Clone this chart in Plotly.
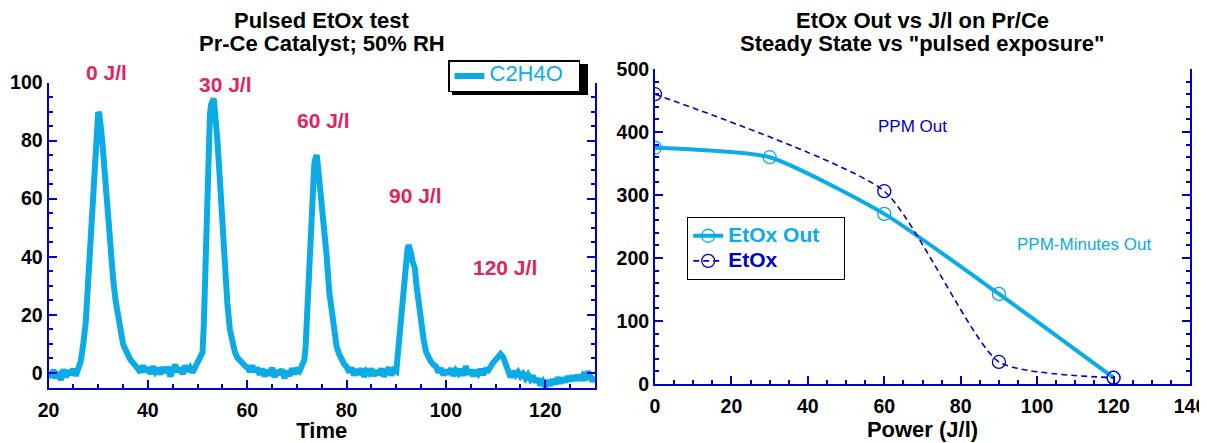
import plotly.graph_objects as go

# ---------------- data ----------------
# Left panel: C2H4O signal vs time
time_min = [
    20.0, 20.5, 21.0, 21.5, 22.0, 22.5, 23.0, 23.5, 24.0, 24.5, 25.0, 25.5, 26.0,
    26.5, 27.0, 27.5, 28.0, 28.5, 29.0, 29.25, 29.5, 29.75, 30.0, 30.25, 30.5, 30.75,
    31.0, 31.5, 32.0, 32.5, 33.0, 33.5, 34.0, 34.5, 35.0, 35.5, 36.0, 36.5, 37.0, 37.5,
    38.0, 38.5, 39.0, 39.5, 40.0, 40.5, 41.0, 41.5, 42.0, 42.5, 43.0, 43.5, 44.0, 44.5,
    45.0, 45.5, 46.0, 46.5, 47.0, 47.5, 48.0, 48.5, 49.0, 49.5, 50.0,
    50.5, 51.0, 51.25, 51.5, 51.75, 52.0, 52.25, 52.5, 52.75, 53.0, 53.25, 53.5, 53.75,
    54.0, 54.5, 55.0, 55.5, 56.0, 56.5, 57.0, 57.5, 58.0, 58.5, 59.0, 59.5, 60.0,
    60.5, 61.0, 61.5, 62.0, 62.5, 63.0, 63.5, 64.0, 64.5, 65.0, 65.5, 66.0, 66.5, 67.0,
    67.5, 68.0, 68.5, 69.0, 69.5, 70.0, 70.5, 71.0,
    71.5, 71.75, 72.0, 72.25, 72.5, 72.75, 73.0, 73.25, 73.5, 73.75, 74.0, 74.25, 74.5,
    75.0, 75.5, 76.0, 76.5, 77.0, 77.5, 78.0, 78.5, 79.0, 79.5, 80.0,
    80.5, 81.0, 81.5, 82.0, 82.5, 83.0, 83.5, 84.0, 84.5, 85.0, 85.5, 86.0, 86.5, 87.0,
    87.5, 88.0, 88.5, 89.0, 89.5, 90.0,
    90.25, 90.5, 90.75, 91.0, 91.25, 91.5, 91.75, 92.0, 92.25, 92.5, 92.75, 93.0, 93.25,
    93.5, 93.75, 94.0, 94.5, 95.0, 95.5, 96.0, 96.5, 97.0, 97.5, 98.0,
    98.5, 99.0, 99.5, 100.0, 100.5, 101.0, 101.5, 102.0, 102.5, 103.0, 103.5, 104.0,
    104.5, 105.0, 105.5, 106.0, 106.5, 107.0, 107.5, 108.0,
    108.5, 109.0, 109.5, 110.0, 110.5, 111.0, 111.5, 112.0, 112.5, 113.0, 113.5, 114.0,
    114.5, 115.0, 115.5, 116.0, 116.5, 117.0, 117.5, 118.0, 118.5, 119.0, 119.5, 120.0,
    120.5, 121.0, 121.5, 122.0, 122.5, 123.0, 123.5, 124.0, 124.5, 125.0, 125.5, 126.0,
    126.5, 127.0, 127.5, 128.0, 128.5, 129.0, 129.5, 130.0,
]
c2h4o = [
    0.3, -1.5, 1.0, -1.8, 0.5, -2.5, 1.2, -1.5, 0.8, -0.5, 1.3, -1.0, 1.5,
    4.0, 10.0, 17.5, 32.0, 47.5, 62.0, 71.0, 80.0, 88.0, 89.8, 89.0, 86.0, 81.0,
    76.0, 63.5, 52.0, 41.5, 32.5, 25.0, 19.0, 13.5, 10.0, 8.0, 5.7, 4.5, 3.5, 2.8,
    1.5, 0.2, 2.5, 0.5, 1.8, -0.3, 2.2, 0.4, 1.6, -0.5, 1.9, 0.2, 2.0, -1.2,
    1.5, 2.8, 0.3, 1.8, -0.4, 2.5, 0.6, 1.8, 0.2, 2.0, 3.0,
    4.5, 7.0, 16.0, 33.0, 50.0, 67.0, 81.0, 89.4, 92.5, 94.0, 94.5, 90.0, 86.0,
    80.0, 66.4, 49.0, 35.0, 24.0, 15.0, 10.5, 7.3, 5.3, 4.2, 3.2, 2.5, 2.0,
    0.5, 2.5, 0.3, 1.8, -0.6, 1.5, -1.2, 1.0, -0.8, 1.8, -1.5, 0.8, -0.5, 1.2,
    -1.8, 0.6, -1.0, 1.5, -0.3, 1.0, 0.5, 2.5,
    4.5, 9.0, 18.0, 31.0, 43.0, 55.0, 63.0, 69.5, 72.0, 74.0, 75.0, 71.0, 67.0,
    60.5, 51.0, 40.0, 28.0, 20.5, 14.0, 9.0, 6.5, 4.5, 3.0, 2.2,
    0.2, 1.8, -0.8, 1.2, -0.5, 1.5, -1.3, 0.6, -0.2, 1.4, -1.0, 0.8, -0.6, 1.5,
    -1.2, 0.5, 1.8, -0.8, 1.0, 0.5,
    5.0, 9.0, 13.0, 18.0, 24.0, 30.0, 36.0, 40.0, 42.5, 44.0, 43.0, 41.0, 38.5,
    37.0, 36.0, 31.0, 23.5, 17.0, 11.5, 7.2, 5.0, 3.8, 2.8, 2.2,
    0.2, 1.6, -0.8, 1.0, -0.4, 1.5, -1.0, 0.8, -0.2, 1.2, -0.9, 2.3,
    -0.5, 1.0, -1.1, 0.9, -0.3, 1.2, -0.6, 1.0,
    0.8, 2.5, 3.5, 4.5, 5.5, 6.5, 5.5, 3.5, 1.5, -1.5, 0.5, -0.8,
    0.3, -1.2, -0.3, -1.8, -0.6, -2.2, -1.0, -3.2, -2.0, -4.2, -3.0, -4.8,
    -2.6, -4.3, -2.2, -3.8, -1.6, -3.5, -1.8, -3.2, -1.2, -2.8, -1.0, -2.6,
    -0.8, -2.4, -1.0, -2.5, 0.5, -1.5, -2.8, -1.2,
]
assert len(time_min) == len(c2h4o)

pulse_labels = ["0 J/l", "30 J/l", "60 J/l", "90 J/l", "120 J/l"]

# Right panel
power_ss = [0, 30, 60, 90, 120]
etox_out = [375, 360, 270, 143, 10]
power_pulse = [0, 60, 90, 120]
etox_pulse = [460, 306, 35, 10]

# ---------------- styles ----------------
# the page body has an 8px margin, so the figure is 8px smaller and every
# window-pixel position below is shifted by that offset
OFF = 8
W, H = 1207 - OFF, 443 - OFF
CYAN = "#0BABE6"
BLUE = "#0000CC"
CRIMSON = "#E0245E"
FONT = "Liberation Sans, Arial, sans-serif"
NB = "&nbsp;"

# window-pixel positions of the pulse labels (text placement only)
label_px = [(106, 72), (225, 84), (323, 121), (415, 195), (505, 267)]


def fx(p):
    return (p - OFF) / W


def fy(p):
    return 1 - (p - OFF) / H


fig = go.Figure()

fig.add_trace(go.Scatter(
    x=time_min, y=c2h4o, mode="lines",
    line=dict(color=CYAN, width=6),
    name='<span style="font-size:22px">C2H4O</span>' + NB * 3,
    xaxis="x", yaxis="y", legend="legend",
))
fig.add_trace(go.Scatter(
    x=power_ss, y=etox_out, mode="lines+markers",
    line=dict(color=CYAN, width=4, shape="spline", smoothing=0.55),
    marker=dict(symbol="circle-open", size=13, color=CYAN,
                line=dict(width=1.3, color=CYAN)),
    name='<b><span style="font-size:21px">EtOx Out</span></b>' + NB * 4,
    xaxis="x2", yaxis="y2", legend="legend2",
))
fig.add_trace(go.Scatter(
    x=power_pulse, y=etox_pulse, mode="lines+markers",
    line=dict(color=BLUE, width=1.6, dash="6px,4px", shape="spline", smoothing=0.55),
    marker=dict(symbol="circle-open", size=13, color=BLUE,
                line=dict(width=1.3, color=BLUE)),
    name='<b><span style="font-size:21px;color:#0000CC">EtOx</span></b>',
    xaxis="x2", yaxis="y2", legend="legend2",
))

axis_common = dict(
    showline=True, linecolor=BLUE, linewidth=2,
    ticks="inside", ticklen=8, tickwidth=2, tickcolor=BLUE,
    showgrid=False, zeroline=False, automargin=False,
    ticklabeloverflow="allow",
    tickfont=dict(family=FONT, size=19.5, color="black", weight="bold"),
)
minor_common = dict(ticklen=4, tickwidth=2, tickcolor=BLUE, ticks="inside", showgrid=False)
title_font = dict(family=FONT, size=22, color="black", weight="bold")

fig.update_layout(
    width=W, height=H,
    margin=dict(l=0, r=0, t=0, b=0, autoexpand=False),
    paper_bgcolor="white", plot_bgcolor="white",
    font=dict(family=FONT, color="black"),
    xaxis=dict(
        **axis_common, domain=[fx(48.5), fx(595)], range=[20, 130],
        tick0=20, dtick=20, anchor="y", mirror=False, ticklabelstandoff=4,
        minor=dict(dtick=5, **minor_common),
        title=dict(text="Time", font=title_font, standoff=3),
    ),
    yaxis=dict(
        **axis_common, domain=[fy(388), fy(82.5)], range=[-5.2, 100],
        tick0=0, dtick=20, anchor="x", mirror="ticks",
        minor=dict(dtick=5, **minor_common),
    ),
    xaxis2=dict(
        **axis_common, domain=[fx(655), fx(1190)], range=[0, 140],
        tick0=0, dtick=20, anchor="y2", mirror=False, ticklabelstandoff=4,
        minor=dict(dtick=5, **minor_common),
        title=dict(text="Power (J/l)", font=title_font, standoff=3),
    ),
    yaxis2=dict(
        **axis_common, domain=[fy(384), fy(69)], range=[0, 500],
        tick0=0, dtick=100, anchor="x2", mirror="ticks",
        minor=dict(dtick=20, **minor_common),
    ),
    legend=dict(
        x=fx(448), y=fy(60), xanchor="left", yanchor="top",
        bgcolor="white", bordercolor="black", borderwidth=1.5,
        font=dict(family=FONT, size=12, color=CYAN),
    ),
    legend2=dict(
        x=fx(687), y=fy(217), xanchor="left", yanchor="top",
        bgcolor="white", bordercolor="black", borderwidth=1.2,
        font=dict(family=FONT, size=17, color=CYAN),
    ),
    showlegend=True,
)

# drop shadow behind the left legend
fig.add_shape(type="rect", xref="paper", yref="paper",
              x0=fx(452), x1=fx(588), y0=fy(95), y1=fy(64),
              fillcolor="black", line=dict(width=0), layer="above")

# titles
titles = [
    ("Pulsed EtOx test", 322, 20), ("Pr-Ce Catalyst; 50% RH", 322, 44),
    ("EtOx Out vs J/l on Pr/Ce", 922, 20), ('Steady State vs "pulsed exposure"', 922, 44),
]
for txt, px, py in titles:
    fig.add_annotation(text=txt, xref="paper", yref="paper", x=fx(px), y=fy(py),
                       xanchor="center", yanchor="middle", showarrow=False,
                       font=dict(family=FONT, size=22, color="black", weight="bold"))

for lab, (px, py) in zip(pulse_labels, label_px):
    fig.add_annotation(text=lab, x=fx(px), y=fy(py), xref="paper", yref="paper",
                       showarrow=False, xanchor="center", yanchor="middle",
                       font=dict(family=FONT, size=21, color=CRIMSON, weight="bold"))

fig.add_annotation(text="PPM Out", x=67.3, y=408, xref="x2", yref="y2", showarrow=False,
                   font=dict(family=FONT, size=17, color=BLUE))
fig.add_annotation(text="PPM-Minutes Out", x=112.3, y=222, xref="x2", yref="y2",
                   showarrow=False, font=dict(family=FONT, size=17, color=CYAN))

fig.write_html("out.html")
